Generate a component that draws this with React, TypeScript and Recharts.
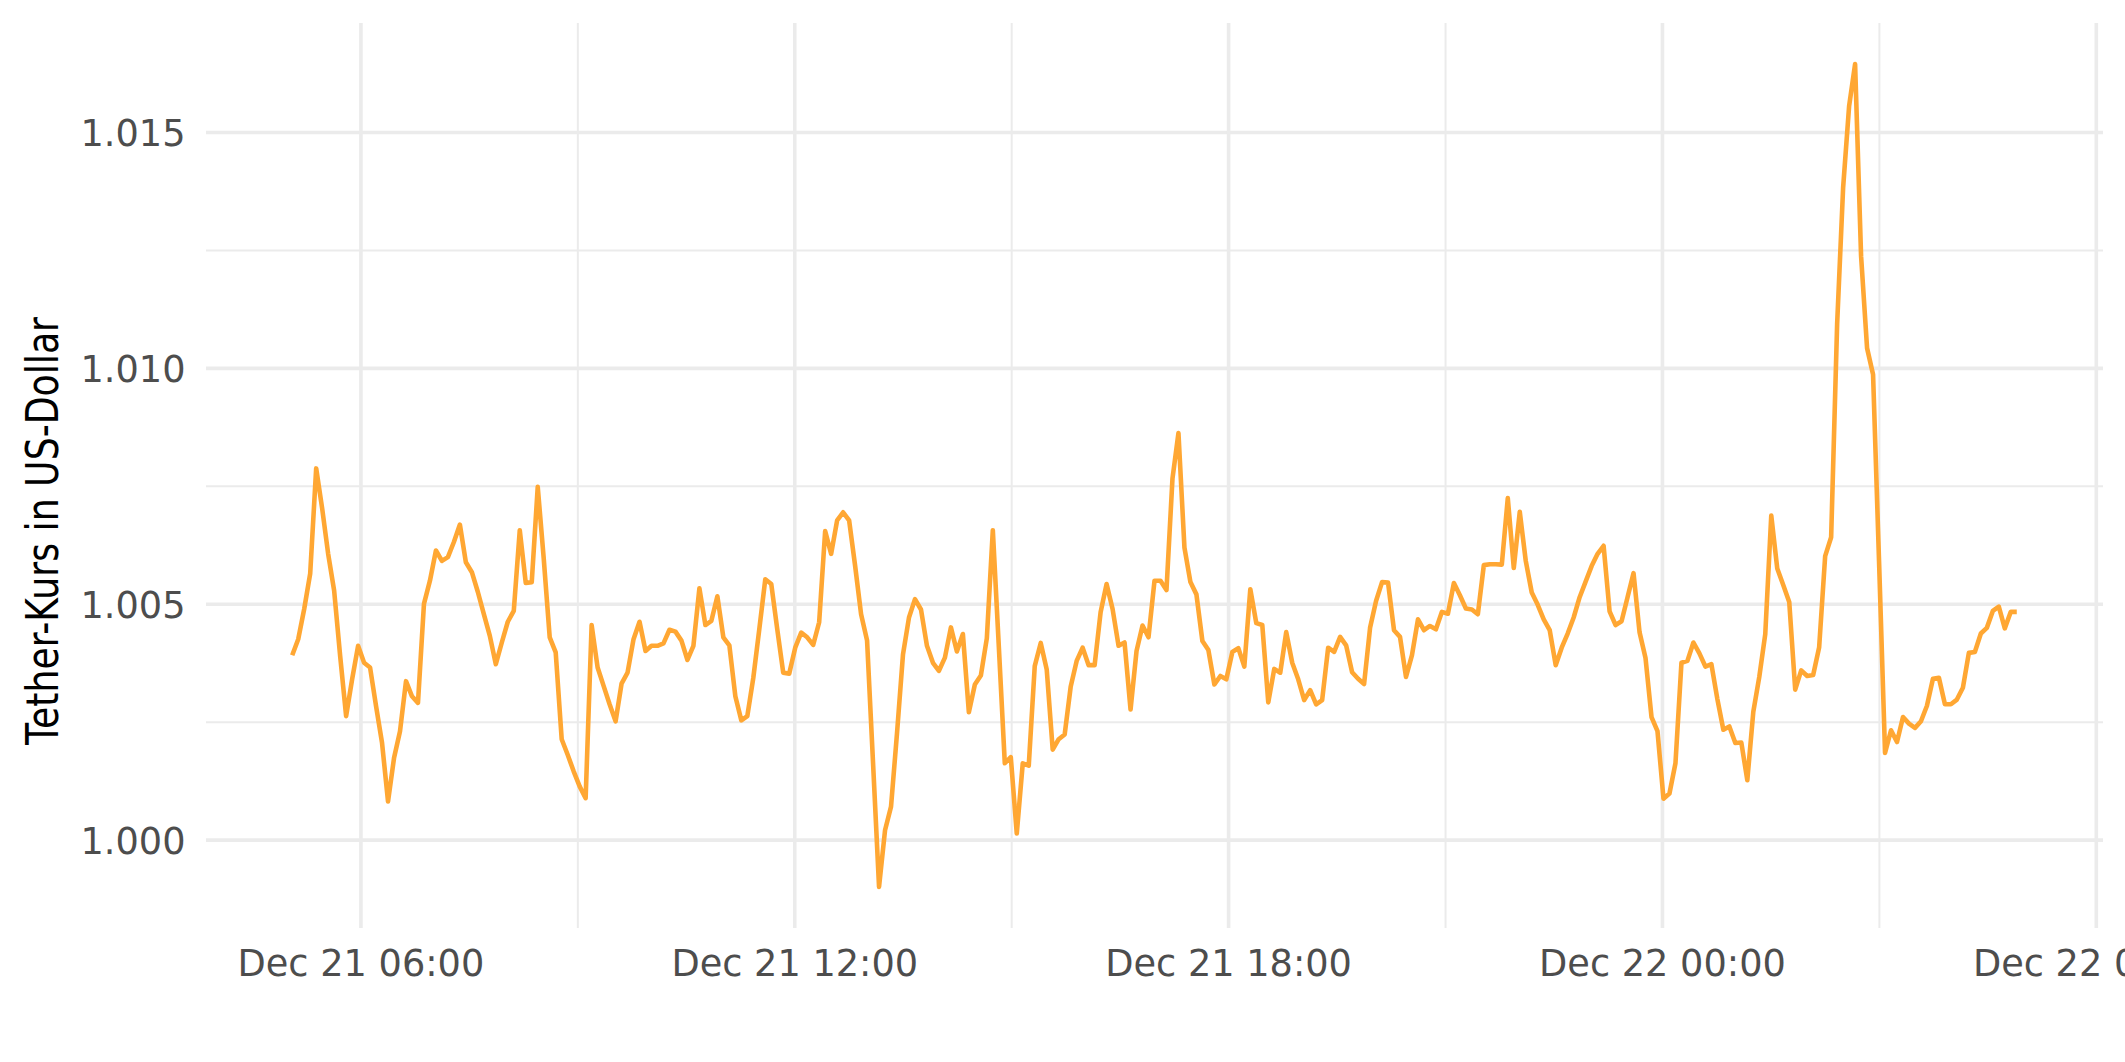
import { LineChart, Line, XAxis, YAxis, CartesianGrid } from 'recharts';

// Tether (USDT) price in USD, ~5 minute samples, Dec 21 05:03 -> Dec 22 04:54
const START_MIN = 303; // minutes after Dec 21 00:00
const END_MIN = 1734;

const PRICES = [
  1.00392, 1.00426, 1.0049, 1.00565, 1.00788, 1.00703, 1.00607, 1.00529, 1.00391, 1.00263,
  1.00341, 1.00412, 1.00376, 1.00366, 1.00284, 1.00206, 1.00082, 1.00174, 1.00231, 1.00337,
  1.00305, 1.00291, 1.00501, 1.0055, 1.00614, 1.00592, 1.006, 1.00632, 1.00669, 1.00589,
  1.00568, 1.00526, 1.00479, 1.00433, 1.00373, 1.00419, 1.00463, 1.00486, 1.00657, 1.00545,
  1.00547, 1.00749, 1.00597, 1.0043, 1.00398, 1.00214, 1.00181, 1.00146, 1.00114, 1.00089,
  1.00456, 1.00366, 1.00327, 1.00288, 1.00252, 1.00332, 1.00355, 1.00426, 1.00463, 1.00401,
  1.00412, 1.00412, 1.00417, 1.00446, 1.00442, 1.00423, 1.00382, 1.00412, 1.00534, 1.00456,
  1.00465, 1.00517,
  1.0043, 1.00413, 1.00305, 1.00254, 1.00263, 1.00344, 1.00447, 1.00553, 1.00543, 1.00447,
  1.00355, 1.00353, 1.00408, 1.0044, 1.0043, 1.00414, 1.00462, 1.00655, 1.00607, 1.00678,
  1.00695, 1.00678, 1.00582, 1.00479, 1.00423, 1.00163, 0.99901, 1.00021, 1.00071, 1.00227,
  1.00394, 1.00472, 1.00511, 1.00489, 1.00412, 1.00376, 1.00359, 1.00387, 1.00451, 1.004,
  1.00437, 1.00271, 1.0033, 1.00349, 1.00428, 1.00657, 1.00411, 1.00163, 1.00176, 1.00014,
  1.00163, 1.00158, 1.00369, 1.00418, 1.00362, 1.00192, 1.00214, 1.00224, 1.00325, 1.0038,
  1.00408, 1.00371, 1.00371, 1.00483, 1.00543, 1.0049, 1.00412, 1.00419, 1.00277, 1.00401,
  1.00455, 1.0043,
  1.0055, 1.0055, 1.0053, 1.00766, 1.00863, 1.0062, 1.00547, 1.00521, 1.00422, 1.00403,
  1.0033, 1.00348, 1.00341, 1.00399, 1.00407, 1.00368, 1.00532, 1.0046, 1.00456, 1.00292,
  1.00363, 1.00355, 1.00441, 1.00376, 1.00341, 1.00297, 1.00318, 1.00288, 1.00297, 1.00408,
  1.00399, 1.00431, 1.00413, 1.00356, 1.00342, 1.00331, 1.0045, 1.00507, 1.00547, 1.00546,
  1.00445, 1.00431, 1.00346, 1.00392, 1.00468, 1.00445, 1.00454, 1.00447, 1.00484, 1.0048,
  1.00545, 1.00519, 1.00491, 1.00489, 1.00479, 1.00583, 1.00585, 1.00585, 1.00584, 1.00725,
  1.00577, 1.00696, 1.00592, 1.00525, 1.00499, 1.00468, 1.00445, 1.00371, 1.00408, 1.00438,
  1.00472, 1.00515, 1.00548, 1.00581, 1.00607, 1.00624, 1.00485, 1.00456, 1.00464, 1.00515,
  1.00566, 1.00441, 1.00386, 1.00261, 1.00231, 1.00088, 1.00099, 1.00163, 1.00376, 1.0038,
  1.00419, 1.00396, 1.00368, 1.00373, 1.00299, 1.00234, 1.00241, 1.00206, 1.00207, 1.00127,
  1.00272, 1.00346, 1.00437, 1.00688, 1.00576, 1.00541, 1.00505, 1.00319, 1.0036, 1.00348,
  1.0035, 1.00409, 1.00602, 1.00642, 1.01094, 1.01383, 1.01556, 1.01645, 1.01238, 1.01043,
  1.00987, 1.00591,
  1.00185, 1.00233, 1.00208, 1.00261, 1.00247, 1.00238, 1.00252, 1.00285, 1.00342, 1.00344,
  1.00288, 1.00288, 1.00298, 1.00323, 1.00397, 1.00399, 1.00438, 1.0045, 1.00486, 1.00495,
  1.00449, 1.00484, 1.00484,
];

const X_TICKS = [360, 720, 1080, 1440, 1800];
const X_TICK_LABELS = ['Dec 21 06:00', 'Dec 21 12:00', 'Dec 21 18:00', 'Dec 22 00:00', 'Dec 22 06:00'];
const X_MINOR = [540, 900, 1260, 1620];
const Y_TICKS = [1.0, 1.005, 1.01, 1.015];
const Y_MINOR = [1.0025, 1.0075, 1.0125];

const W = 2125;
const H = 1062;
const PLOT_BOTTOM = 928;
const FONT = '"DejaVu Sans", sans-serif';
const TICK_COLOR = '#4D4D4D';
const GRID_COLOR = '#EBEBEB';

const step = (END_MIN - START_MIN) / (PRICES.length - 1);
const data = PRICES.map((v, i) => ({ t: START_MIN + i * step, v }));

// ggplot-like 5% expansion
const xPad = (END_MIN - START_MIN) * 0.05;
const yMin = Math.min(...PRICES);
const yMax = Math.max(...PRICES);
const yPad = (yMax - yMin) * 0.05;

function XTick({ x, payload }: any) {
  const label = X_TICK_LABELS[X_TICKS.indexOf(payload.value)];
  return (
    <text x={x} y={PLOT_BOTTOM + 48} textAnchor="middle" fill={TICK_COLOR} fontSize={36.7} fontFamily={FONT}>
      {label}
    </text>
  );
}

function YTick({ y, payload }: any) {
  return (
    <text x={185.5} y={y + 13.4} textAnchor="end" fill={TICK_COLOR} fontSize={36.7} fontFamily={FONT}>
      {Number(payload.value).toFixed(3)}
    </text>
  );
}

// title is a narrow face in the original, squeeze it to its measured length
function YTitle() {
  const cx = 58;
  const cy = 531;
  return (
    <text
      x={cx}
      y={cy}
      transform={`rotate(-90 ${cx} ${cy})`}
      textAnchor="middle"
      fill="#000000"
      fontSize={45}
      fontFamily={FONT}
      textLength={428}
      lengthAdjust="spacingAndGlyphs"
    >
      Tether-Kurs in US-Dollar
    </text>
  );
}

export default function App() {
  return (
    <div style={{ width: W, height: H, overflow: 'hidden', background: '#fff' }}>
      <style>{'body{margin:0}'}</style>
      <LineChart width={W} height={H} data={data} margin={{ top: 23, right: 22, left: 0, bottom: 0 }}>
        <CartesianGrid stroke={GRID_COLOR} strokeWidth={2} horizontalValues={Y_MINOR} verticalValues={X_MINOR} />
        <CartesianGrid stroke={GRID_COLOR} strokeWidth={3.6} horizontalValues={Y_TICKS} verticalValues={X_TICKS} />
        <XAxis
          type="number"
          dataKey="t"
          domain={[START_MIN - xPad, END_MIN + xPad]}
          ticks={X_TICKS}
          interval={0}
          height={134}
          axisLine={false}
          tickLine={false}
          tick={<XTick />}
        />
        <YAxis
          type="number"
          domain={[yMin - yPad, yMax + yPad]}
          ticks={Y_TICKS}
          interval={0}
          width={206}
          axisLine={false}
          tickLine={false}
          tick={<YTick />}
          label={<YTitle />}
        />
        <Line
          type="linear"
          dataKey="v"
          stroke="#FFA733"
          strokeWidth={4.6}
          strokeLinejoin="round"
          dot={false}
          isAnimationActive={false}
        />
      </LineChart>
    </div>
  );
}
